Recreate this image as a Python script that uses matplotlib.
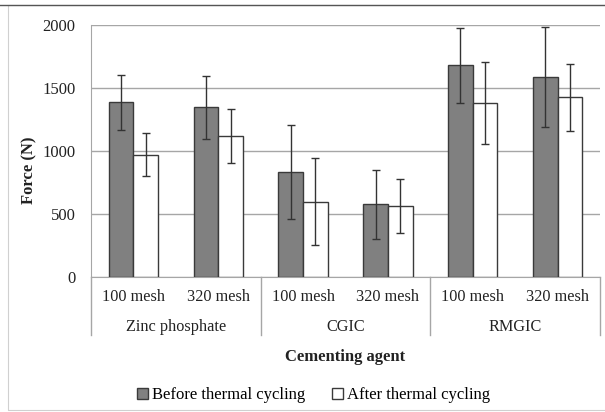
import numpy as np
import matplotlib.pyplot as plt
from matplotlib.patches import Rectangle

plt.rcParams['font.family'] = ['Liberation Serif', 'DejaVu Serif']

# data
mesh_labels = ["100 mesh", "320 mesh", "100 mesh", "320 mesh", "100 mesh", "320 mesh"]
agents = ["Zinc phosphate", "CGIC", "RMGIC"]
before = [1385, 1348, 833, 576, 1679, 1589]
before_err = [215, 250, 370, 273, 297, 397]
after = [970, 1119, 597, 565, 1382, 1427]
after_err = [172, 218, 345, 212, 326, 267]

fig = plt.figure(figsize=(6.05, 4.12), dpi=100)
ax = fig.add_axes([91 / 605, 1 - 277 / 412, 509 / 605, 252 / 412])

x = np.arange(len(before))
w = 0.29
err_kw = dict(ecolor="#333333", elinewidth=1, capsize=3, capthick=1)
ax.bar(x - w / 2, before, w, yerr=before_err, color="#808080",
       edgecolor="#3a3a3a", linewidth=1, error_kw=err_kw, zorder=3,
       label="Before thermal cycling")
ax.bar(x + w / 2, after, w, yerr=after_err, color="white",
       edgecolor="#3a3a3a", linewidth=1, error_kw=err_kw, zorder=3,
       label="After thermal cycling")

ax.set_xlim(-0.5, len(before) - 0.5)
ax.set_ylim(0, 2000)
ax.set_yticks([0, 500, 1000, 1500, 2000])
ax.tick_params(axis="y", length=0, labelsize=12, pad=11, labelcolor="#222222")
ax.grid(axis="y", color="#a6a6a6", linewidth=1, zorder=0)
for s in ["top", "right"]:
    ax.spines[s].set_visible(False)
ax.spines["left"].set_color("#a6a6a6")
ax.spines["bottom"].set_color("#a6a6a6")
ax.spines["left"].set_zorder(1)

# two-level category labels
ax.set_xticks([])
trans = ax.get_xaxis_transform()
for i, lab in enumerate(mesh_labels):
    ax.text(i, -0.078, lab, transform=trans, ha="center", va="center",
            fontsize=11.7, color="#222222")
for g, name in enumerate(agents):
    ax.text(2 * g + 0.5, -0.197, name, transform=trans, ha="center",
            va="center", fontsize=11.7, color="#222222")
for b in [-0.5, 1.5, 3.5, 5.5]:
    ax.plot([b, b], [0, -0.232], transform=trans, color="#a6a6a6",
            linewidth=1, clip_on=False)

ax.text(0.5, -0.317, "Cementing agent", transform=ax.transAxes, ha="center",
        va="center", fontsize=12, fontweight="bold", color="#222222")
fig.text(29 / 605, 1 - 170 / 412, "Force (N)", rotation=90, ha="center",
         va="center", fontsize=12, fontweight="bold", color="#222222")

fig.legend(loc="center", bbox_to_anchor=(0.518, 1 - 395 / 412), ncol=2,
           frameon=False, fontsize=12, handlelength=0.65, handleheight=0.65,
           handletextpad=0.25, columnspacing=1.6)

# outer chart border
fig.patches.append(Rectangle((8 / 605, 0.005), 1, 1 - 5 / 412 - 0.005,
                             transform=fig.transFigure, fill=False,
                             edgecolor="#d0d0d0", linewidth=0.8))
fig.add_artist(plt.Line2D([0, 1], [1 - 5 / 412, 1 - 5 / 412],
                          transform=fig.transFigure, color="#555555",
                          linewidth=1))

fig.savefig("out.png", dpi=100)
